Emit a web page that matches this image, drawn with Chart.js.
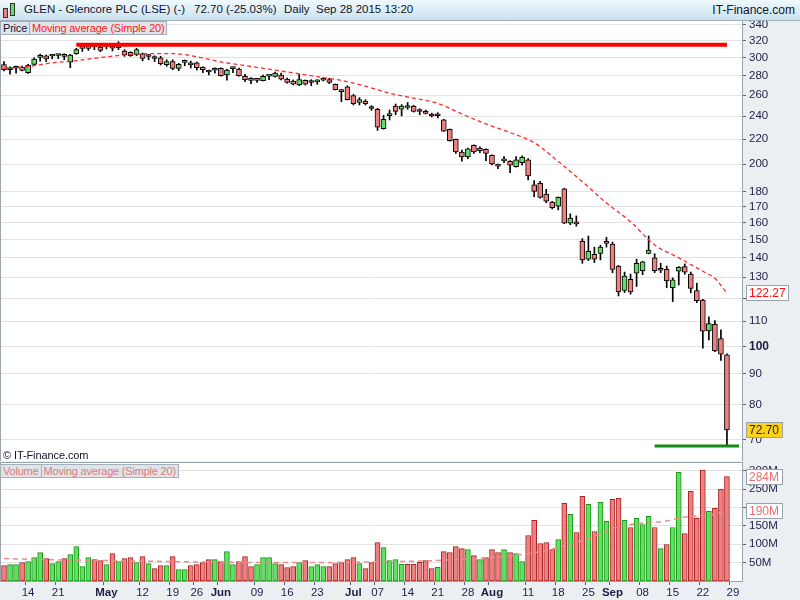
<!DOCTYPE html>
<html>
<head>
<meta charset="utf-8">
<script src="https://cdn.jsdelivr.net/npm/chart.js@4.4.0/dist/chart.umd.min.js"></script>
<style>
  body { margin:0; width:800px; height:600px; overflow:hidden; position:relative; background:#eceff1; font-family:"Liberation Sans", Arial, sans-serif; }
  #title { position:absolute; left:0; top:0; width:800px; height:20px; background:linear-gradient(#f0f9fd,#c9e2ee); border-bottom:1px solid #9fb0bc; font-size:11.5px; color:#14142a; }
  #title span { position:absolute; top:3px; white-space:nowrap; }
  .icon { position:absolute; border:1px solid #333; width:3px; }
  .pane { position:absolute; left:0; width:800px; }
  .legend { position:absolute; left:0; display:flex; font-size:11px; letter-spacing:-0.2px; z-index:2; }
  .legend div { background:#dfe5ea; border:1px solid #a5afb8; padding:0 2px; height:12px; line-height:12px; margin-right:-1px; }
  #copy { position:absolute; left:3px; top:449px; font-size:11px; letter-spacing:-0.1px; color:#14142a; z-index:2; }
</style>
</head>
<body>
<div id="title">
  <div class="icon" style="left:3px;top:8px;height:8px;background:#f08080"></div>
  <div class="icon" style="left:10px;top:3px;height:11px;background:#66dd66"></div>
  <span style="left:24px">GLEN - Glencore PLC (LSE) (-)</span>
  <span style="left:194px">72.70 (-25.03%)</span>
  <span style="left:284px">Daily</span>
  <span style="left:316px">Sep 28 2015 13:20</span>
  <span style="right:5px;font-size:12px">IT-Finance.com</span>
</div>
<div class="pane" style="top:21px;height:440px"><canvas id="priceChart"></canvas></div>
<div class="legend" style="top:21px">
  <div style="color:#14142a">Price</div>
  <div style="color:#ff2020">Moving average (Simple 20)</div>
</div>
<div id="copy">© IT-Finance.com</div>
<div class="pane" style="top:462px;height:138px"><canvas id="volumeChart"></canvas></div>
<div class="legend" style="top:464px">
  <div style="color:#e07a7a">Volume</div>
  <div style="color:#e07a7a">Moving average (Simple 20)</div>
</div>
<script>
// trading days shown (two empty slots after Sep 28)
const aprDays = [8,9,10,13,14,15,16,17,20,21,22,23,24,27,28,29,30];
const mayDays = [1,5,6,7,8,11,12,13,14,15,18,19,20,21,22,26,27,28,29];
const junDays = [1,2,3,4,5,8,9,10,11,12,15,16,17,18,19,22,23,24,25,26,29,30];
const julDays = [1,2,3,6,7,8,9,10,13,14,15,16,17,20,21,22,23,24,27,28,29,30,31];
const augDays = [3,4,5,6,7,10,11,12,13,14,17,18,19,20,21,24,25,26,27,28];
const sepDays = [1,2,3,4,7,8,9,10,11,14,15,16,17,18,21,22,23,24,25,28,29,30];

const xTickLabels = {
  "04-14": "14", "04-21": "21", "05-01": "May", "05-12": "12", "05-19": "19", "05-26": "26",
  "06-01": "Jun", "06-09": "09", "06-16": "16", "06-23": "23", "07-01": "Jul", "07-07": "07",
  "07-14": "14", "07-21": "21", "07-28": "28", "08-03": "Aug", "08-11": "11", "08-18": "18",
  "08-25": "25", "09-01": "Sep", "09-08": "08", "09-15": "15", "09-22": "22", "09-29": "29"
};
const monthLabels = ["May", "Jun", "Jul", "Aug", "Sep"];

const open = [292,286.4,288,289.4,283.3,292.4,300.2,302,301.8,302.4,303.7,294.9,304.4,313.5,310.7,312.8,312.3,313,311.2,313.9,307.6,306,303.7,304.4,301.2,299.3,299.8,291.9,295.5,287.9,
  294.5,294,294,289.4,284.4,285.9,288,280.7,287.7,287.2,279.3,275.4,275,274.7,279.6,279.3,280.7,276.4,274.4,270.3,
  275.2,273.2,273.5,275.2,275.8,271,265.5,268.3,259.5,253,254.3,247.5,246.3,228.9,240.5,249.5,246.4,248.1,249.5,244.7,
  244.5,242,241.8,236.6,228.3,219.8,209.4,205.6,214.9,212.6,211.6,206.8,198.8,202.5,202.2,198.1,201.1,203.2,184.9,185.9,
  178.5,173,170.4,182.1,159.7,159.7,149,139.3,141.9,142.4,149,147.5,135.7,123.6,129,132,133.3,142.3,140,133.9,
  134,124.9,133,135.4,131.6,123.6,119.2,106,108.7,102.9,96.8];
const high = [295.5,289.5,290.3,290.5,292.4,299.8,304,303,303.6,303.6,304.4,303.7,310.8,316,315.5,314.6,314.6,315.5,313.9,318.7,309.2,306.8,310.8,305.2,303.7,302.1,301.4,297.5,297.5,293.4,
  297.2,296,295,289.8,286,288.6,288.5,287.2,289.4,288.3,281.5,277.9,277.3,280.7,281,284,282.9,277.5,275.5,281.5,
  275.5,275.8,275.8,277.9,277.3,271.3,265.8,269.4,260.9,257.6,255.6,249.8,247.3,240.8,245.7,251.4,250.8,252.9,250.2,246.9,
  245.7,242.8,243.2,237.2,228.6,220,211,212.6,215.3,213.6,212,207.1,200.1,205.8,202.7,205.8,206.4,204.2,187.8,187.3,
  181.7,173.6,176.5,182.5,165.5,164.2,150.6,152.1,145.8,146.9,151.4,148.6,136,132.6,131.6,139.3,138.2,152.1,142.2,137.1,
  135.7,129.7,135.4,136.8,132.6,127.1,119.5,111.8,110.2,106.4,97.1];
const low = [285,281.5,282.8,285,282.5,291.6,296,295.5,298.5,298.8,297.5,288.6,303.7,307,308.3,309.2,306.8,310,307.6,309.2,301.4,301.4,302.1,296.3,297.5,295.5,291.6,290.2,286.4,285.4,
  290.8,288.3,286,283.3,280.7,282.6,279.6,275.2,283.3,279.6,273.7,271.7,273,274.4,275.8,278.5,275.5,272.2,270.3,269.6,
  270.3,269.6,271,274.4,271.7,265.2,253.6,255.3,250.5,250.5,250.5,245.4,227.4,228.5,236.6,241.4,240.2,246.4,243.8,241.4,
  242,239.3,238.4,226.5,218.2,208.3,202.2,204.1,208.3,208.9,202.7,199.3,196.6,201.1,193.6,197.6,199.1,188.3,176.6,175.7,
  172.6,168.6,168,159.5,158.8,157.9,137.1,138.5,137.5,138.9,145.8,132.3,121.1,122.6,121.9,125.5,131.3,142.1,132.3,132.3,
  124.9,118.5,126.2,131.5,122.5,118,99.3,102.4,97.9,94.7,68.6];
const close = [286.5,288.6,289,285.7,291.6,298.4,300.8,298.4,302.3,302.8,301.4,302.9,309.2,310.7,313.9,312.4,308.3,313.3,310.8,311.4,302.9,302.1,309.2,299.1,301.6,298.9,293.1,295.5,287.9,292.4,
  295,291.6,288.7,286.4,284,286.3,280,286.1,288.2,280,275.8,275,275.4,279.3,280.2,282.9,276.4,272.9,271,275.8,
  271,272.8,273.9,277.3,273,265.5,263.5,255.6,251.7,255.6,251.7,247.1,230.2,237.2,241,244.5,249.5,248.5,244.5,244.3,
  242.6,240.2,240.4,226.8,218.6,209.4,205.6,212,209.4,210.4,208.3,200.1,198.4,202.9,199.1,203.2,205.3,191.2,180.3,176.2,
  173.6,169.5,176.3,159.7,162.9,159.3,138.9,143.5,139.3,145.8,147.9,134,122.9,130.6,122.9,137.1,137.9,144.2,133.3,133.5,
  128.2,128.7,135,132.6,124.6,118.9,105.9,109,98.2,97,72.7];
// volume in millions
const volume = [41.8,44.5,44.5,50,52.7,63.6,77.3,60.9,47.3,52.7,60.9,71.8,93.7,39.1,63.6,58.2,55.5,44.5,74.6,52.7,60.9,63.6,50,66.4,47.3,33.6,41.8,41.8,66.4,30.9,
  30.9,41.8,44.5,50,58.2,58.2,52.7,80,44.5,52.7,66.4,39.1,44.5,63.6,63.6,47.3,44.5,36.4,39.1,50,
  55.5,39.1,44.5,39.1,39.1,47.3,50,58.2,63.6,47.3,33.6,50,104.6,91,55.5,58.2,45.4,45.4,45.4,50.8,
  55.5,33.6,37.2,80,77.3,93.7,88.2,85.5,69.1,58.2,63.6,85.5,77.3,85.5,77.3,74.6,52.7,123.8,164.8,101.9,
  104.6,85.5,112.8,211.2,181.1,132,230.3,208.5,134.7,213.9,162,222.1,224.9,164.8,145.6,170.2,153.8,175.7,145.6,88.2,
  99.2,145.6,295.9,129.2,244,170.2,301.4,189.3,197.5,249.5,284];

// moving averages at some days
const maDays = [0,4,8,12,16,20,24,28,32,36,40,44,48,52,56,60,64,68,72,76,80,84,88,92,96,100,104,108,112,116,118,120];
const maPrice = [288,290,294,296.5,300,303,304.5,304.5,301,295,291,287,283,279,275,269,262,257,252,242,233,225.5,217,202,187,172.5,160.6,147,140,133,129.5,122.27];
const maVolDays = [0,10,20,32,48,65,72,80,85,90,93,97,101,105,110,113,117,120];
const maVolume = [61,57,55,52,50,53,56,63,70,83,96,115,143,156,163,174,179,190];

// drawn support / resistance lines
const resistDays = [12, 120];
const resistLevel = 315;
const supportDays = [108, 122];
const supportLevel = 68.4;

const priceTicks = [70,80,90,100,110,120,130,140,150,160,170,180,200,220,240,260,280,300,320,340];
const volumeTicks = [50,100,150,200,250,300];

const pad = n => String(n).padStart(2, "0");
const dates = [];
[[4, aprDays], [5, mayDays], [6, junDays], [7, julDays], [8, augDays], [9, sepDays]].forEach(([m, days]) => {
  days.forEach(d => dates.push(pad(m) + "-" + pad(d)));
});

const FONT = '"Liberation Sans", Arial, sans-serif';
Chart.defaults.font.family = FONT;
Chart.defaults.font.size = 11;
Chart.defaults.color = "#1e1e3c";
Chart.defaults.animation = false;

const framePlugin = {
  id: "frame",
  beforeDraw(chart) {
    const { ctx, chartArea: a } = chart;
    ctx.save();
    ctx.fillStyle = "#ffffff";
    ctx.fillRect(a.left, a.top, a.right - a.left, a.bottom - a.top);
    ctx.restore();
  },
  afterDraw(chart) {
    const { ctx, chartArea: a } = chart;
    ctx.save();
    ctx.strokeStyle = "#9aa4ad";
    ctx.lineWidth = 1;
    ctx.strokeRect(a.left - 0.5, a.top - 0.5, a.right - a.left + 1, a.bottom - a.top + 1);
    ctx.restore();
  }
};

function tagPlugin(tags) {
  return {
    id: "tags",
    afterDraw(chart) {
      const { ctx } = chart;
      const y = chart.scales.y;
      ctx.save();
      ctx.font = "12px " + FONT;
      ctx.textBaseline = "middle";
      tags.forEach(t => {
        const py = Math.round(y.getPixelForValue(t.value));
        const w = Math.ceil(ctx.measureText(t.text).width) + 4;
        const x0 = y.left + 5;
        ctx.fillStyle = t.bg;
        ctx.fillRect(x0, py - 7, w, 14);
        ctx.strokeStyle = "#98a2ab";
        ctx.lineWidth = 1;
        ctx.strokeRect(x0 - 0.5, py - 7.5, w + 1, 15);
        ctx.fillStyle = t.color;
        ctx.fillText(t.text, x0 + 2, py + 1);
      });
      ctx.restore();
    }
  };
}

const up = close.map((c, i) => i === 0 ? c >= open[0] : c >= close[i - 1]);

const fitY = s => { s.width = 58; s.paddingTop = 0; s.paddingBottom = 0; };

new Chart(document.getElementById("priceChart"), {
  type: "bar",
  data: {
    labels: dates,
    datasets: [
      {
        type: "line", order: 0,
        data: resistDays.map(i => ({ x: dates[i], y: resistLevel })),
        borderColor: "#ff0000", borderWidth: 4, pointRadius: 0
      },
      {
        type: "line", order: 0,
        data: supportDays.map(i => ({ x: dates[i], y: supportLevel })),
        borderColor: "#138a13", borderWidth: 3, pointRadius: 0
      },
      {
        type: "line", order: 1,
        data: maDays.map((d, k) => ({ x: dates[d], y: maPrice[k] })),
        borderColor: "#ff2a2a", borderWidth: 1.3, borderDash: [4, 3],
        pointRadius: 0, cubicInterpolationMode: "monotone"
      },
      {
        order: 2, grouped: false,
        data: open.map((o, i) => [Math.min(o, close[i]), Math.max(o, close[i])]),
        backgroundColor: open.map((o, i) => close[i] >= o ? "#66dd66" : "#f08080"),
        borderColor: "#000000", borderWidth: 1, borderSkipped: false,
        barThickness: 5, minBarLength: 2
      },
      {
        order: 3, grouped: false,
        data: low.map((l, i) => [l, high[i]]),
        backgroundColor: "#000000", borderWidth: 0,
        barThickness: 1
      }
    ]
  },
  options: {
    responsive: true,
    maintainAspectRatio: false,
    layout: { padding: { left: 1 } },
    plugins: { legend: { display: false }, tooltip: { enabled: false } },
    scales: {
      x: { type: "category", offset: true, display: false },
      y: {
        type: "logarithmic",
        position: "right",
        min: 64.6,
        max: 344.8,
        afterBuildTicks: s => { s.ticks = priceTicks.map(v => ({ value: v })); },
        afterFit: fitY,
        grid: { color: "#e2e2e2", tickColor: "#5a6470", tickLength: 4 },
        border: { color: "#9aa4ad" },
        ticks: {
          padding: 3,
          color: "#1e1e46",
          callback: v => String(v),
          font: ctx => (ctx.tick && ctx.tick.value === 100 ? { size: 12, weight: "bold" } : { size: 11.5 })
        }
      }
    }
  },
  plugins: [framePlugin, tagPlugin([
    { value: maPrice[maPrice.length - 1], text: "122.27", color: "#ff1010", bg: "#ffffff" },
    { value: close[close.length - 1], text: "72.70", color: "#1e1e3c", bg: "#ffd21a" }
  ])]
});

new Chart(document.getElementById("volumeChart"), {
  type: "bar",
  data: {
    labels: dates,
    datasets: [
      {
        type: "line", order: 0,
        data: maVolDays.map((d, k) => ({ x: dates[d], y: maVolume[k] })),
        borderColor: "#ec8c8c", borderWidth: 1.5, borderDash: [5, 4],
        pointRadius: 0, cubicInterpolationMode: "monotone"
      },
      {
        order: 1,
        data: volume,
        backgroundColor: up.map(u => u ? "#62e062" : "#f08080"),
        borderColor: up.map(u => u ? "#1a941a" : "#a82424"),
        borderWidth: 1, borderSkipped: false,
        barThickness: 5
      }
    ]
  },
  options: {
    responsive: true,
    maintainAspectRatio: false,
    layout: { padding: { left: 1, top: 1 } },
    plugins: { legend: { display: false }, tooltip: { enabled: false } },
    scales: {
      x: {
        type: "category",
        offset: true,
        afterFit: s => { s.height = 19; s.paddingLeft = 0; s.paddingRight = 0; },
        grid: {
          drawOnChartArea: false,
          tickLength: 4,
          tickColor: ctx => xTickLabels[dates[ctx.index]] ? "#5a6470" : "rgba(0,0,0,0)"
        },
        border: { color: "#9aa4ad" },
        ticks: {
          autoSkip: false,
          maxRotation: 0,
          padding: 1,
          color: "#1e1e46",
          callback: (v, i) => xTickLabels[dates[i]] || "",
          font: ctx => ({ size: 11.5, weight: monthLabels.includes(xTickLabels[dates[ctx.index]]) ? "bold" : "normal" })
        }
      },
      y: {
        position: "right",
        min: 0,
        max: 321,
        afterBuildTicks: s => { s.ticks = volumeTicks.map(v => ({ value: v })); },
        afterFit: fitY,
        grid: { color: "#e2e2e2", tickColor: "#5a6470", tickLength: 4 },
        border: { color: "#9aa4ad" },
        ticks: { padding: 3, color: "#1e1e46", font: { size: 11.5 }, callback: v => v + "M" }
      }
    }
  },
  plugins: [framePlugin, tagPlugin([
    { value: volume[volume.length - 1], text: "284M", color: "#e87070", bg: "#ffffff" },
    { value: maVolume[maVolume.length - 1], text: "190M", color: "#e87070", bg: "#ffffff" }
  ])]
});
</script>
</body>
</html>
